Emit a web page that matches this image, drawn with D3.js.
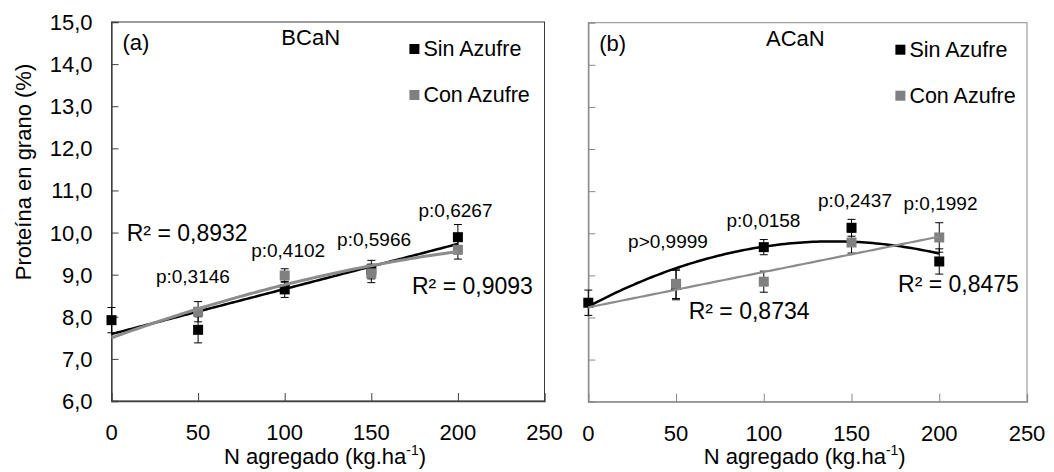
<!DOCTYPE html>
<html>
	<head>
		<meta charset="utf-8">
		<style>
			body { margin: 0; background: #fff; }
			svg text { font-family: "Liberation Sans", Arial, sans-serif; fill: #000; }
		</style>
		<script src="https://cdnjs.cloudflare.com/ajax/libs/d3/7.8.5/d3.min.js"></script>
	</head>
	<body>
		<div id="chart"></div>
		<script type="text/javascript">
			// N doses (kg/ha)
			var doses = [0, 50, 100, 150, 200];
			var xTicks = [0, 50, 100, 150, 200, 250];
			var yTicks = [6, 7, 8, 9, 10, 11, 12, 13, 14, 15];

			// (a) BCaN  (Con Azufre has no 0 dose point)
			var bcanSin = [7.92, 7.69, 8.65, 9.12, 9.89];
			var bcanSinErr = [0.30, 0.31, 0.19, 0.22, 0.30];
			var bcanCon = [null, 8.12, 8.98, 9.03, 9.59];
			var bcanConErr = [null, 0.24, 0.16, 0.22, 0.22];
			var bcanP = ["", "p:0,3146", "p:0,4102", "p:0,5966", "p:0,6267"];
			// trendline coefficients a + b*x + c*x^2
			var bcanSinTrend = [7.59, 0.0107, 0];
			var bcanConTrend = [7.50, 0.01495, -0.0000235];
			var bcanR2 = ["R² = 0,8932", "R² = 0,9093"];

			// (b) ACaN
			var acanSin = [8.35, 8.77, 9.67, 10.13, 9.33];
			var acanSinErr = [0.30, 0.35, 0.18, 0.20, 0.30];
			var acanCon = [null, 8.80, 8.85, 9.78, 9.90];
			var acanConErr = [null, 0.35, 0.25, 0.25, 0.35];
			var acanP = ["", "p>0,9999", "p:0,0158", "p:0,2437", "p:0,1992"];
			var acanSinTrend = [8.26, 0.02216, -0.0000794];
			var acanConTrend = [8.24, 0.0084, 0];
			var acanR2 = ["R² = 0,8475", "R² = 0,8734"];

			var W = 1054, H = 472;
			var svg = d3.select("#chart").append("svg").attr("width", W).attr("height", H);

			var fmt = function(d) { return d3.format(".1f")(d).replace(".", ","); };

			function drawPanel(opt) {
				var x = d3.scaleLinear().domain([0, 250]).range([opt.left, opt.right]);
				var y = d3.scaleLinear().domain([6, 15]).range([opt.bottom, opt.top]);
				var g = svg.append("g");

				// frame
				g.append("rect")
				  .attr("x", opt.left).attr("y", opt.top)
				  .attr("width", opt.right - opt.left).attr("height", opt.bottom - opt.top)
				  .attr("fill", "none").attr("stroke", opt.frame).attr("stroke-width", 1);

				// y axis (inner ticks)
				var ya = g.append("g").attr("transform", "translate(" + opt.left + ",0)")
				  .call(d3.axisRight(y).tickValues(yTicks.slice(1, -1)).tickSize(7).tickFormat(""));
				ya.select(".domain").attr("stroke", opt.axis).attr("stroke-width", 1.3);
				ya.selectAll(".tick line").attr("stroke", opt.axis);
				if (opt.yLabels) {
					g.selectAll(".ylab").data(yTicks).enter().append("text")
					  .attr("x", opt.left - 19).attr("y", function(d) { return y(d) + 8; })
					  .attr("text-anchor", "end").style("font-size", "22px")
					  .text(fmt);
				}

				// x axis (inner ticks)
				var xa = g.append("g").attr("transform", "translate(0," + opt.bottom + ")")
				  .call(d3.axisTop(x).tickValues(xTicks.slice(1, -1)).tickSize(8).tickFormat(""));
				xa.select(".domain").attr("stroke", opt.axis).attr("stroke-width", 1.3);
				xa.selectAll(".tick line").attr("stroke", opt.axis);
				g.selectAll(".xlab").data(xTicks).enter().append("text")
				  .attr("x", function(d) { return x(d); }).attr("y", opt.bottom + 39)
				  .attr("text-anchor", "middle").style("font-size", "22px")
				  .text(function(d) { return d; });

				var xt = g.append("text").attr("x", (opt.left + opt.right) / 2 - 3).attr("y", H - 8)
				  .attr("text-anchor", "middle").style("font-size", "22px");
				xt.append("tspan").text("N agregado (kg.ha");
				xt.append("tspan").attr("dy", -9).style("font-size", "14px").text("-1");
				xt.append("tspan").attr("dy", 9).text(")");

				// trendlines
				var xs = d3.range(0, 201, 2);
				var line = d3.line().x(function(d) { return x(d[0]); }).y(function(d) { return y(d[1]); });
				function trend(c) {
					return xs.map(function(v) { return [v, c[0] + c[1] * v + c[2] * v * v]; });
				}

				// series: error bars + squares
				function series(vals, errs, color) {
					var s = g.append("g");
					doses.forEach(function(d, i) {
						if (vals[i] == null) return;
						var cx = x(d);
						s.append("line").attr("x1", cx).attr("x2", cx)
						  .attr("y1", y(vals[i] - errs[i])).attr("y2", y(vals[i] + errs[i]))
						  .attr("stroke", "#000").attr("stroke-width", 1);
						[vals[i] - errs[i], vals[i] + errs[i]].forEach(function(v) {
							s.append("line").attr("x1", cx - 4).attr("x2", cx + 4)
							  .attr("y1", y(v)).attr("y2", y(v))
							  .attr("stroke", "#000").attr("stroke-width", 1);
						});
						s.append("rect").attr("x", cx - 5).attr("y", y(vals[i]) - 5)
						  .attr("width", 10).attr("height", 10).attr("fill", color);
					});
				}

				series(opt.sin, opt.sinErr, "#000");
				g.append("path").datum(trend(opt.sinTrend)).attr("d", line)
				  .attr("fill", "none").attr("stroke", "#000").attr("stroke-width", 2.5);
				series(opt.con, opt.conErr, "#808080");
				g.append("path").datum(trend(opt.conTrend)).attr("d", line)
				  .attr("fill", "none").attr("stroke", "#8c8c8c").attr("stroke-width", opt.conW);

				// p labels
				opt.pPos.forEach(function(p, i) {
					if (!opt.p[i]) return;
					g.append("text").attr("x", x(p[0])).attr("y", y(p[1]))
					  .attr("text-anchor", "middle").style("font-size", "19px")
					  .text(opt.p[i]);
				});
				// R2 labels
				opt.r2Pos.forEach(function(p, i) {
					g.append("text").attr("x", x(p[0])).attr("y", y(p[1]))
					  .style("font-size", "23px").text(opt.r2[i]);
				});

				// panel letter + title
				g.append("text").attr("x", opt.left + 11).attr("y", opt.top + 28)
				  .style("font-size", "22px").text(opt.letter);
				g.append("text").attr("x", x(opt.titleX)).attr("y", opt.top + 23)
				  .attr("text-anchor", "middle").style("font-size", "22px").text(opt.title);

				// legend
				[["Sin Azufre", "#000"], ["Con Azufre", "#808080"]].forEach(function(l, i) {
					var ly = opt.top + 27 + i * 46;
					g.append("rect").attr("x", x(opt.legX)).attr("y", ly - 5)
					  .attr("width", 10).attr("height", 10).attr("fill", l[1]);
					g.append("text").attr("x", x(opt.legX) + 14).attr("y", ly + 7)
					  .style("font-size", "21.5px").text(l[0]);
				});
			}

			drawPanel({
				left: 111.5, right: 544.5, top: 22, bottom: 401,
				frame: "#3a3a3a", axis: "#404040", yLabels: true,
				sin: bcanSin, sinErr: bcanSinErr, con: bcanCon, conErr: bcanConErr,
				sinTrend: bcanSinTrend, conTrend: bcanConTrend, conW: 3,
				p: bcanP, pPos: [[0, 0], [47, 8.8], [102, 9.42], [151.6, 9.67], [198.6, 10.38]],
				r2: bcanR2, r2Pos: [[8.8, 9.81], [173.5, 8.54]],
				letter: "(a)", title: "BCaN", titleX: 115, legX: 172
			});

			drawPanel({
				left: 588.3, right: 1027, top: 22.7, bottom: 401.7,
				frame: "#8a8a8a", axis: "#8a8a8a", yLabels: false,
				sin: acanSin, sinErr: acanSinErr, con: acanCon, conErr: acanConErr,
				sinTrend: acanSinTrend, conTrend: acanConTrend, conW: 2.2,
				p: acanP, pPos: [[0, 0], [45.4, 9.66], [99.8, 10.16], [152, 10.63], [200.7, 10.55]],
				r2: acanR2, r2Pos: [[176.5, 8.61], [57.2, 7.96]],
				letter: "(b)", title: "ACaN", titleX: 118, legX: 175
			});

			// y axis title
			svg.append("text").attr("transform", "translate(31,172) rotate(-90)")
			  .attr("text-anchor", "middle").style("font-size", "22px")
			  .text("Proteína en grano (%)");
		</script>
	</body>
</html>
